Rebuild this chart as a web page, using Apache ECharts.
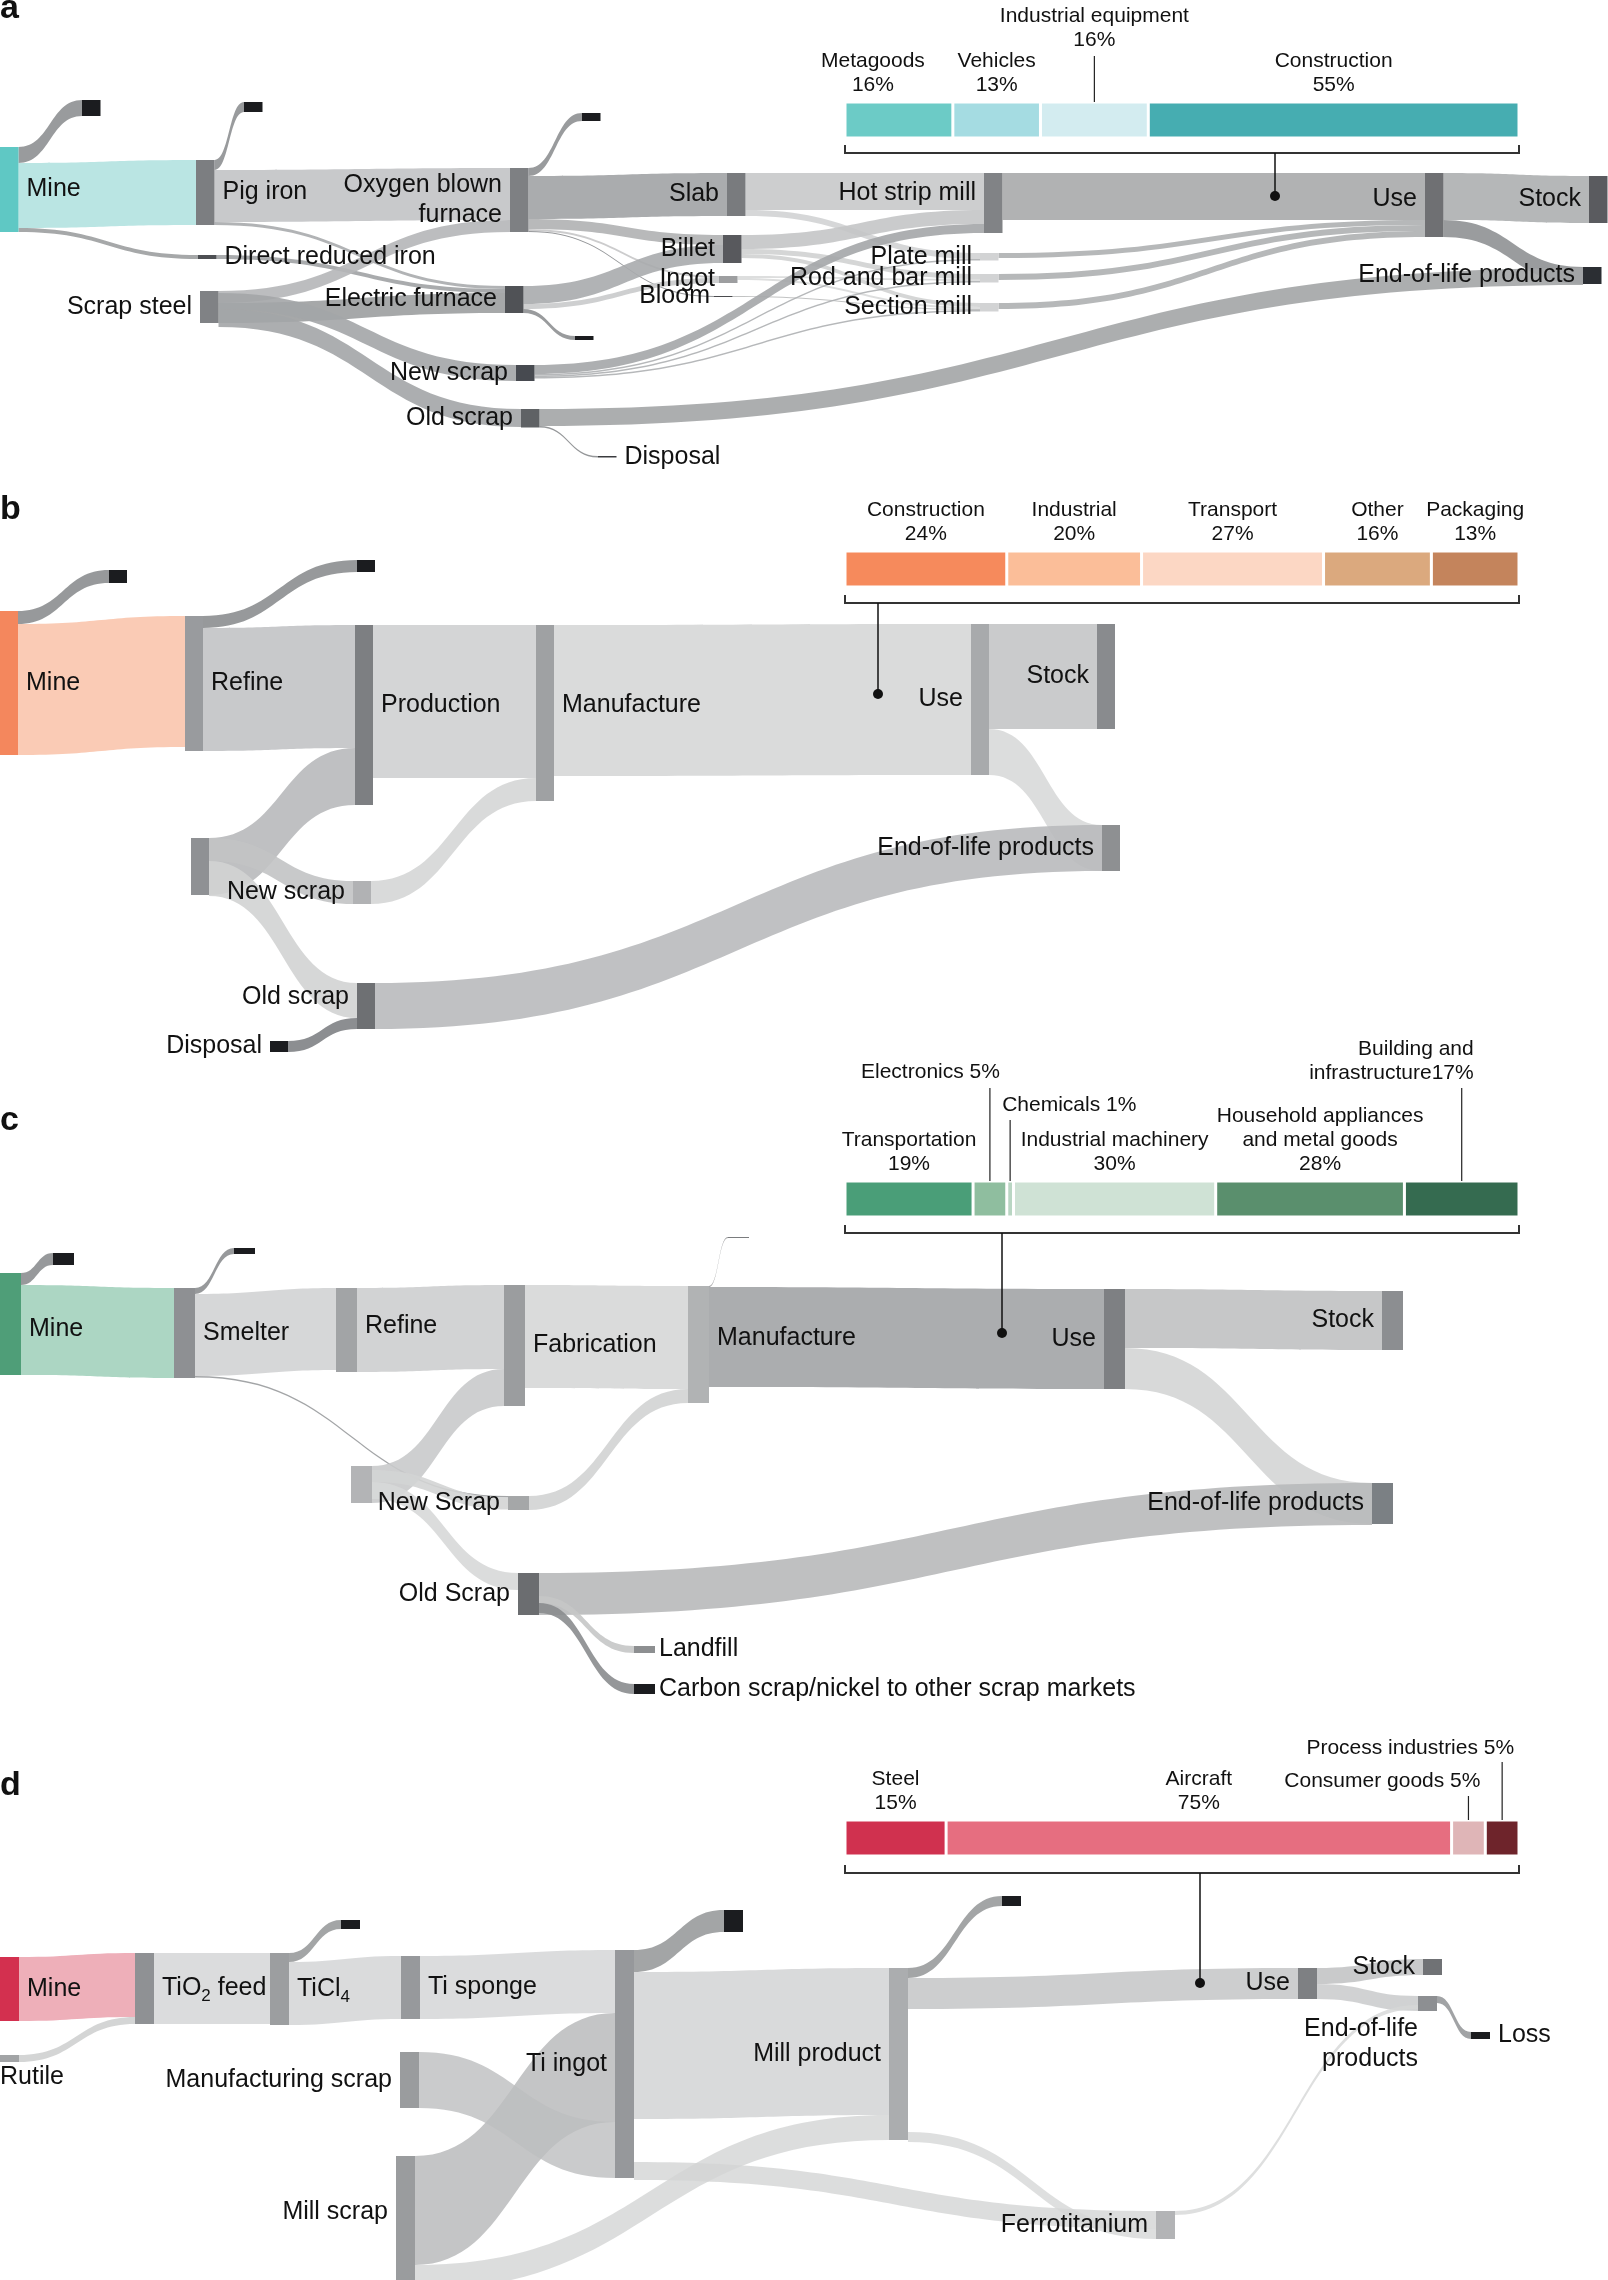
<!DOCTYPE html>
<html>
<head>
<meta charset="utf-8">
<script src="https://cdn.jsdelivr.net/npm/echarts@6.0.0/dist/echarts.min.js"></script>
<style>html,body{margin:0;padding:0;background:#fff}#c{width:1608px;height:2280px}</style>
</head>
<body>
<div id="c"></div>
<script>
// ================= DATA =================
// Flow widths are relative units read from the ribbon thickness in the figure.

// ---- Panel a : steel ----
const aFlows = [
  ['Mine','a_loss1',16], ['Mine','Pig iron',65], ['Mine','Direct reduced iron',4],
  ['Pig iron','a_loss2',10], ['Pig iron','Oxygen blown furnace',52], ['Pig iron','Electric furnace',3],
  ['Direct reduced iron','Electric furnace',4],
  ['Scrap steel','Oxygen blown furnace',12], ['Scrap steel','Electric furnace',20],
  ['Scrap steel*','New scrap',16], ['Scrap steel*','Old scrap',18],
  ['Oxygen blown furnace','a_loss3',8], ['Oxygen blown furnace','Slab',43], ['Oxygen blown furnace','Billet',10],
  ['Oxygen blown furnace','Ingot',2], ['Oxygen blown furnace','Bloom',1],
  ['Electric furnace','Billet',18], ['Electric furnace','Ingot',5], ['Electric furnace','a_loss4',4],
  ['Slab','Hot strip mill',37], ['Slab','Plate mill',6],
  ['Billet','Hot strip mill',14], ['Billet','Rod and bar mill',5], ['Billet','Section mill',4],
  ['Ingot','Rod and bar mill',2], ['Ingot','Section mill',2], ['Bloom','Section mill',1],
  ['New scrap','Hot strip mill',9], ['New scrap','Plate mill',1.5], ['New scrap','Rod and bar mill',1.5], ['New scrap','Section mill',1.5],
  ['Hot strip mill','Use',47], ['Plate mill','Use',5], ['Rod and bar mill','Use',6], ['Section mill','Use',6],
  ['Use','Stock',47], ['Use','End-of-life products',17],
  ['Old scrap','End-of-life products*',17], ['Old scrap','Disposal',1.5]
];
const aUseNames = ['Metagoods','Vehicles','Industrial equipment','Construction'];
const aUseShare = [16,13,16,55];

// ---- Panel b : aluminium ----
const bFlows = [
  ['Mine','b_loss1',13], ['Mine','Refine',131],
  ['Refine','b_loss2',12], ['Refine','Production',123],
  ['Scrap','Production',57],
  ['Production','Manufacture',153], ['New scrap','Manufacture',23],
  ['Manufacture','Use',151],
  ['Use','Stock',105], ['Use','End-of-life products',46],
  ['Scrap*','New scrap',23], ['Scrap*','Old scrap',35],
  ['Disposal','Old scrap',11],
  ['Old scrap','End-of-life products*',46]
];
const bUseNames = ['Construction','Industrial','Transport','Other','Packaging'];
const bUseShare = [24,20,27,16,13];

// ---- Panel c : nickel ----
const cFlows = [
  ['Mine','c_loss1',12], ['Mine','Smelter',90],
  ['Smelter','c_loss2',6], ['Smelter','Refine',82], ['Smelter','New Scrap',1.5],
  ['Refine','Fabrication',84], ['Scrap','Fabrication',37],
  ['Fabrication','Manufacture',103], ['New Scrap','Manufacture',14],
  ['Manufacture','c_loss3',1], ['Manufacture','Use',100],
  ['Use','Stock',59], ['Use','End-of-life products',41],
  ['Scrap*','New Scrap',12], ['Scrap*','Old Scrap',17],
  ['Old Scrap','End-of-life products*',42],
  ['Old Scrap*','Landfill',7], ['Old Scrap*','Carbon scrap/nickel to other scrap markets',10]
];
const cUseNames = ['Transportation','Electronics','Chemicals','Industrial machinery','Household appliances\nand metal goods','Building and\ninfrastructure'];
const cUseShare = [19,5,1,30,28,17];

// ---- Panel d : titanium ----
const dFlows = [
  ['Mine','TiO2 feed',64], ['Rutile','TiO2 feed',7],
  ['TiO2 feed','TiCl4',71],
  ['TiCl4','d_loss1',9], ['TiCl4','Ti sponge',63],
  ['Ti sponge','Ti ingot',63], ['Mill scrap','Ti ingot',109], ['Manufacturing scrap','Ti ingot',56],
  ['Ti ingot','d_loss2',22], ['Ti ingot','Mill product',147], ['Mill scrap','Mill product',25],
  ['Ti ingot*','Ferrotitanium',18],
  ['Mill product','d_loss3',10], ['Mill product','Use',31],
  ['Mill product*','Ferrotitanium',10],
  ['Use','Stock',16], ['Use','End-of-life products',15],
  ['End-of-life products','Loss',7],
  ['Ferrotitanium','End-of-life products*',4]
];
const dUseNames = ['Steel','Aircraft','Consumer goods','Process industries'];
const dUseShare = [15,75,5,5];

// ================= LAYOUT & STYLE =================
const FONT = "'Liberation Sans', Arial, Helvetica, sans-serif";
const W = 1608;
const PX_PER_UNIT = 1;
const LOSS = '#1b1c1f';

// node top-left positions (px on the page)
const aPos = {
  'Mine':[0,147],'a_loss1':[82,100],'Pig iron':[196,160],'a_loss2':[244,102],'Direct reduced iron':[198,255],
  'Oxygen blown furnace':[510,168],'a_loss3':[582,113],'Scrap steel':[200,291],'Scrap steel*':[200,293],
  'Electric furnace':[505,286],'a_loss4':[575,336],'New scrap':[516,365],'Old scrap':[521,409],'Disposal':[598,456],
  'Slab':[727,173],'Billet':[723,235],'Ingot':[719,276],'Bloom':[714,296],
  'Hot strip mill':[984,173],'Plate mill':[980,253],'Rod and bar mill':[980,274],'Section mill':[980,303],
  'Use':[1425,173],'Stock':[1589,176],'End-of-life products':[1583,267],'End-of-life products*':[1583,268]
};
const bPos = {
  'Mine':[0,611],'b_loss1':[109,570],'Refine':[185,616],'b_loss2':[357,560],'Production':[355,625],
  'Manufacture':[536,625],'Use':[971,624],'Stock':[1097,624],'End-of-life products':[1102,825],'End-of-life products*':[1102,825],
  'Scrap':[191,838],'Scrap*':[191,838],'New scrap':[353,881],'Old scrap':[357,983],'Disposal':[270,1041]
};
const cPos = {
  'Mine':[0,1273],'c_loss1':[53,1253],'Smelter':[174,1288],'c_loss2':[234,1248],'Refine':[336,1288],
  'Fabrication':[504,1285],'Manufacture':[688,1286],'c_loss3':[728,1237],'Use':[1104,1289],'Stock':[1382,1291],
  'End-of-life products':[1372,1483],'End-of-life products*':[1372,1483],'Scrap':[351,1466],'Scrap*':[351,1470],
  'New Scrap':[508,1496],'Old Scrap':[518,1573],'Old Scrap*':[518,1596],'Landfill':[634,1646],
  'Carbon scrap/nickel to other scrap markets':[634,1684]
};
const dPos = {
  'Mine':[0,1957],'Rutile':[0,2055],'TiO2 feed':[135,1953],'TiCl4':[270,1953],'d_loss1':[341,1920],
  'Ti sponge':[401,1956],'Manufacturing scrap':[400,2052],'Mill scrap':[396,2156],'Ti ingot':[615,1950],
  'Ti ingot*':[615,2162],'d_loss2':[724,1910],'Mill product':[889,1968],'Mill product*':[889,2132],
  'd_loss3':[1002,1896],'Use':[1298,1968],'Stock':[1423,1959],'End-of-life products':[1418,1996],
  'End-of-life products*':[1418,2005],'Loss':[1471,2032],'Ferrotitanium':[1156,2211]
};

const aNodeColor = {'Mine':'#5fc8c4','Pig iron':'#7c7e81','Direct reduced iron':'#4d4f53','Oxygen blown furnace':'#7e8083',
  'Scrap steel':'#808285','Electric furnace':'#505256','New scrap':'#474a50','Old scrap':'#5f6265','Disposal':'#3a3b3e',
  'Slab':'#797b7e','Billet':'#58595d','Ingot':'#9d9ea0','Bloom':'#4a4b4e','Hot strip mill':'#818386','Plate mill':'#d2d3d4',
  'Rod and bar mill':'#d2d3d4','Section mill':'#d2d3d4','Use':'#6f7073','Stock':'#5a5b5f','End-of-life products':'#2b2e33'};
const bNodeColor = {'Mine':'#f4875d','Refine':'#999b9e','Production':'#7d7f82','Manufacture':'#9fa1a3','Use':'#a8aaac',
  'Stock':'#898b8e','End-of-life products':'#8e9092','Scrap':'#8f9194','New scrap':'#b1b2b4','Old scrap':'#6e7073','Disposal':LOSS};
const cNodeColor = {'Mine':'#4f9e78','Smelter':'#8e9093','Refine':'#a2a4a6','Fabrication':'#9b9d9f','Manufacture':'#b1b3b4',
  'c_loss3':'#7a7c7e','Use':'#7e8083','Stock':'#8c8e91','End-of-life products':'#7b8084','Scrap':'#b3b4b6','New Scrap':'#a5a7a8',
  'Old Scrap':'#6b6d70','Landfill':'#8d8f91','Carbon scrap/nickel to other scrap markets':LOSS};
const dNodeColor = {'Mine':'#d3304f','Rutile':'#a2a4a6','TiO2 feed':'#8f9194','TiCl4':'#9c9ea0','Ti sponge':'#97999c',
  'Manufacturing scrap':'#9a9c9e','Mill scrap':'#9a9c9e','Ti ingot':'#96989b','Mill product':'#abadaf','Use':'#7e8083',
  'Stock':'#707275','End-of-life products':'#8d8f92','Loss':LOSS,'Ferrotitanium':'#b3b4b6'};

const aFlowColor = ['#8e9092','#b3e2e0','#9c9ea0','#8e9092','#c2c3c5','#a9abad','#a0a2a4','#b5b6b8','#9c9ea0','#a3a5a7','#a3a5a7',
  '#8e9092','#a1a3a5','#b0b1b3','#c6c7c8','#8a8c8e','#a9abad','#c9cacb','#8e9092','#c8c9ca','#d2d3d4','#c4c5c6','#d0d1d2','#d0d1d2',
  '#d9dada','#d9dada','#bbbcbd','#a4a6a8','#aeb0b2','#aeb0b2','#aeb0b2','#a8aaab','#aeb0b1','#aeb0b1','#aeb0b1','#adafb0','#8f9193',
  '#a3a5a6','#8a8c8e'];
const bFlowColor = ['#8c8e90','#f9c5ad','#8c8e90','#c2c3c5','#b8b9bb','#cfd0d1','#d5d6d6','#d6d7d7','#c4c5c6','#d8d9d9',
  '#c2c3c4','#d2d3d3','#808285','#b9babc'];
const cFlowColor = ['#8c8e90','#a3d2bc','#8c8e90','#d2d3d4','#999b9d','#cdcecf','#c9cacb','#d6d7d7','#d2d3d3','#888a8c','#a2a4a6',
  '#c0c1c2','#d4d5d5','#d3d4d4','#d7d8d8','#b8b9ba','#c5c6c7','#8a8c8e'];
const dFlowColor = ['#ea9ba7','#c9cacb','#d2d3d4','#8c8e90','#d1d2d3','#d2d3d4','#b5b6b8','#bdbebf','#8c8e90','#d0d1d2','#d3d4d5',
  '#d3d4d5','#8c8e90','#c1c2c3','#d6d7d7','#bcbdbe','#c6c7c8','#8a8c8e','#d6d7d7'];

const SUB = {s:{fontSize:17, padding:[16,0,0,0], fontFamily:FONT, color:'#111'}};
const aLabel = {
  'Mine':{position:'right'},'Pig iron':{position:'right'},'Direct reduced iron':{position:'right'},
  'Oxygen blown furnace':{position:'left',formatter:'Oxygen blown\nfurnace',lineHeight:30},
  'Scrap steel':{position:'left'},'Electric furnace':{position:'left'},'New scrap':{position:'left'},'Old scrap':{position:'left'},
  'Disposal':{position:'right'},'Slab':{position:'left'},'Billet':{position:'left'},'Ingot':{position:'left',distance:4},
  'Bloom':{position:'left',distance:4},'Hot strip mill':{position:'left',offset:[0,-10]},'Plate mill':{position:'left'},
  'Rod and bar mill':{position:'left'},'Section mill':{position:'left'},'Use':{position:'left',offset:[0,-6]},
  'Stock':{position:'left'},'End-of-life products':{position:'left'}
};
const bLabel = {
  'Mine':{position:'right'},'Refine':{position:'right'},'Production':{position:'right',offset:[0,-10]},
  'Manufacture':{position:'right',offset:[0,-8]},'Use':{position:'left'},'Stock':{position:'left'},
  'End-of-life products':{position:'left'},'New scrap':{position:'left'},'Old scrap':{position:'left',offset:[0,-9]},
  'Disposal':{position:'left'}
};
const cLabel = {
  'Mine':{position:'right',offset:[0,5]},'Smelter':{position:'right'},'Refine':{position:'right',offset:[0,-4]},
  'Fabrication':{position:'right'},'Manufacture':{position:'right',offset:[0,-6]},'Use':{position:'left'},
  'Stock':{position:'left'},'End-of-life products':{position:'left'},'New Scrap':{position:'left'},'Old Scrap':{position:'left'},
  'Landfill':{position:'right',distance:4},'Carbon scrap/nickel to other scrap markets':{position:'right',distance:4}
};
const dLabel = {
  'Mine':{position:'right'},'Rutile':{position:[0,10],align:'left',verticalAlign:'top'},
  'TiO2 feed':{position:'right',formatter:'TiO{s|2} feed',rich:SUB},'TiCl4':{position:'right',formatter:'TiCl{s|4}',rich:SUB},
  'Ti sponge':{position:'right'},'Manufacturing scrap':{position:'left'},'Mill scrap':{position:'left',offset:[0,-11]},
  'Ti ingot':{position:'left'},'Mill product':{position:'left'},'Use':{position:'left'},'Stock':{position:'left'},
  'End-of-life products':{position:[0,18],align:'right',verticalAlign:'top',formatter:'End-of-life\nproducts',lineHeight:30},
  'Loss':{position:'right'},'Ferrotitanium':{position:'left'}
};

const panels = [
  {id:'a', flows:aFlows, pos:aPos, nodeColor:aNodeColor, flowColor:aFlowColor, labels:aLabel, top:90, height:380, nodeWidth:18.5, opacity:0.9,
   uses:aUseNames, shares:aUseShare, barColors:['#6ccbc6','#a5dce2','#d3ecf0','#46adb1'], barTop:102,
   seps:['\n','\n','\n','\n'], bracketY:153, connX:1275, dotY:196, letterY:26,
   special:{0:{offset:[-26,0]}, 2:{position:['50%',-50],align:'center',verticalAlign:'bottom'}}, leaders:[[2,56]]},
  {id:'b', flows:bFlows, pos:bPos, nodeColor:bNodeColor, flowColor:bFlowColor, labels:bLabel, top:540, height:520, nodeWidth:18, opacity:0.9,
   uses:bUseNames, shares:bUseShare, barColors:['#f68a5c','#fbbe99','#fcd7c4','#dba97e','#c4845c'], barTop:551,
   seps:['\n','\n','\n','\n','\n'], bracketY:603, connX:878, dotY:694, letterY:527, special:{}, leaders:[]},
  {id:'c', flows:cFlows, pos:cPos, nodeColor:cNodeColor, flowColor:cFlowColor, labels:cLabel, top:1220, height:500, nodeWidth:21, opacity:0.9,
   uses:cUseNames, shares:cUseShare, barColors:['#4a9e78','#8fbe9f','#b9d6c3','#cfe2d5','#5a8f6d','#356b50'], barTop:1181,
   seps:['\n',' ',' ','\n','\n',''], bracketY:1233, connX:1002, dotY:1333, letterY:1138,
   special:{1:{position:['50%',-97],align:'right',verticalAlign:'bottom',offset:[10,0]},
            2:{position:['50%',-64],align:'left',verticalAlign:'bottom',offset:[-8,0]},
            4:{offset:[10,0]},
            5:{position:['50%',-96],align:'right',verticalAlign:'bottom',offset:[12,0]}},
   leaders:[[1,1088],[2,1120],[5,1088]]},
  {id:'d', flows:dFlows, pos:dPos, nodeColor:dNodeColor, flowColor:dFlowColor, labels:dLabel, top:1880, height:420, nodeWidth:19, opacity:0.8,
   uses:dUseNames, shares:dUseShare, barColors:['#d0314f','#e66e80','#dfb5b7','#6e242b'], barTop:1820,
   seps:['\n','\n',' ',' '], bracketY:1873, connX:1200, dotY:1983, letterY:1803,
   special:{2:{position:['50%',-27],align:'right',verticalAlign:'bottom',offset:[12,0]},
            3:{position:['50%',-60],align:'right',verticalAlign:'bottom',offset:[12,0]}},
   leaders:[[2,1796],[3,1762]]}
];
const BAR_LEFT = 845, BAR_W = 674, BAR_H = 36;

// ================= BUILD =================
function sankeySeries(p) {
  const names = [];
  p.flows.forEach(f => { [f[0], f[1]].forEach(n => { if (names.indexOf(n) < 0) names.push(n); }); });
  const data = names.map((n, i) => {
    const hidden = n.endsWith('*');
    const lab = p.labels[n];
    const xy = p.pos[n];
    return {
      name: n, depth: i,
      localX: xy[0] / W,
      localY: (xy[1] - p.top) / p.height,
      itemStyle: hidden ? {color: 'rgba(0,0,0,0)', opacity: 0} : {color: p.nodeColor[n] || LOSS, opacity: 1},
      label: lab ? Object.assign({show: true}, lab) : {show: false}
    };
  });
  // invisible scale node: fixes the px-per-unit of the ribbons
  data.push({name: '__scale_' + p.id, depth: names.length, value: p.height / PX_PER_UNIT,
    localX: 0, localY: 0, itemStyle: {color: 'rgba(0,0,0,0)', opacity: 0}, label: {show: false}});
  const links = p.flows.map((f, i) => ({
    source: f[0], target: f[1], value: f[2],
    lineStyle: {color: p.flowColor[i] || '#b0b2b4', opacity: p.opacity, curveness: 0.5}
  }));
  return {
    type: 'sankey', left: 0, top: p.top, width: W, height: p.height, z: 2,
    nodeWidth: p.nodeWidth, nodeGap: 0, layoutIterations: 0, nodeAlign: 'left',
    draggable: false, silent: true, emphasis: {disabled: true},
    label: {color: '#111', fontSize: 25, fontFamily: FONT, distance: 8, textBorderWidth: 0},
    lineStyle: {curveness: 0.5},
    data: data, links: links
  };
}

const grids = [], xAxes = [], yAxes = [], series = [];
panels.forEach((p, g) => {
  series.push(sankeySeries(p));
  grids.push({left: BAR_LEFT, width: BAR_W, top: p.barTop, height: BAR_H});
  xAxes.push({gridIndex: g, type: 'value', min: 0, max: 100, show: false});
  yAxes.push({gridIndex: g, type: 'category', data: ['share'], show: false});
  p.uses.forEach((n, i) => {
    series.push({
      type: 'bar', xAxisIndex: g, yAxisIndex: g, stack: 'share' + g, barWidth: BAR_H, silent: true,
      data: [p.shares[i]],
      itemStyle: {color: p.barColors[i], borderColor: '#fff', borderWidth: 1.5},
      label: Object.assign({show: true, position: 'top', distance: 5, formatter: n + p.seps[i] + p.shares[i] + '%',
        color: '#111', fontSize: 21, lineHeight: 24, fontFamily: FONT, textBorderWidth: 0}, p.special[i] || {})
    });
  });
});

const chart = echarts.init(document.getElementById('c'), null, {renderer: 'canvas'});
chart.setOption({
  animation: false, backgroundColor: '#fff',
  grid: grids, xAxis: xAxes, yAxis: yAxes, series: series
});

// annotations: brackets, leader lines, connectors, panel letters
const gr = [];
panels.forEach((p, g) => {
  const x0 = chart.convertToPixel({xAxisIndex: g}, 0);
  const x1 = chart.convertToPixel({xAxisIndex: g}, 100);
  const by = p.bracketY;
  gr.push({type: 'polyline', silent: true, z: 100, shape: {points: [[x0, by - 8], [x0, by], [x1, by], [x1, by - 8]]},
    style: {stroke: '#333', lineWidth: 2, fill: null}});
  gr.push({type: 'line', silent: true, z: 100, shape: {x1: p.connX, y1: by, x2: p.connX, y2: p.dotY},
    style: {stroke: '#111', lineWidth: 1.5}});
  gr.push({type: 'circle', silent: true, z: 100, shape: {cx: p.connX, cy: p.dotY, r: 5}, style: {fill: '#111'}});
  p.leaders.forEach(l => {
    const i = l[0];
    let cum = 0;
    for (let k = 0; k < i; k++) cum += p.shares[k];
    const x = chart.convertToPixel({xAxisIndex: g}, cum + p.shares[i] / 2);
    gr.push({type: 'line', silent: true, z: 100, shape: {x1: x, y1: l[1], x2: x, y2: p.barTop},
      style: {stroke: '#222', lineWidth: 1.2}});
  });
  gr.push({type: 'text', silent: true, z: 100, x: 0, y: p.letterY,
    style: {text: p.id, font: 'bold 34px ' + FONT, fill: '#111', verticalAlign: 'bottom', align: 'left'}});
});
chart.setOption({graphic: gr});
</script>
</body>
</html>
